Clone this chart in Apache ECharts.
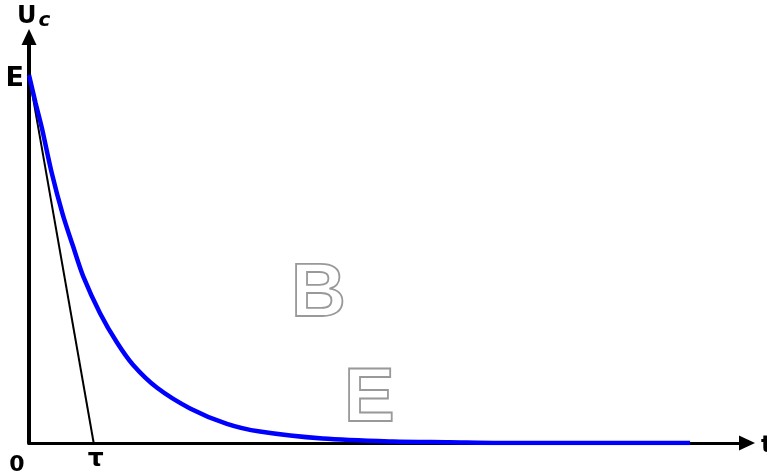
<!DOCTYPE html>
<html>
<head>
<meta charset="utf-8">
<script src="https://cdn.jsdelivr.net/npm/echarts@6/dist/echarts.min.js"></script>
<style>
  html, body { margin: 0; padding: 0; background: #fff; }
  #chart { width: 767px; height: 473px; }
</style>
</head>
<body>
<div id="chart"></div>
<script>
// Capacitor discharge: time in units of tau, voltage in units of E
const timeTau = [0, 0.10, 0.20, 0.35, 0.52, 0.68, 0.84, 1.10, 1.36, 1.61, 1.98, 2.49, 3.06, 3.57, 4.54, 5.63, 6.50, 7.28, 10.22];
const voltage = [1.0, 0.925, 0.855, 0.735, 0.622, 0.535, 0.452, 0.352, 0.273, 0.212, 0.150, 0.094, 0.052, 0.031, 0.012, 0.004, 0.002, 0.0, 0.0];
// Initial-slope line from (0, E) down to the time axis at tau
const tangentT = [0, 1];
const tangentU = [1, 0];
const xMax = 11.1;
const yMax = 1.103;

const curve = timeTau.map((t, i) => [t, voltage[i]]);
const tangent = tangentT.map((t, i) => [t, tangentU[i]]);

const chart = echarts.init(document.getElementById('chart'));
const labelFont = '"DejaVu Sans", sans-serif';

const axisCommon = {
  type: 'value',
  splitLine: { show: false },
  axisTick: { show: false },
  axisLabel: { show: false },
  axisLine: {
    show: true,
    onZero: false,
    symbol: ['none', 'triangle'],
    symbolSize: [15, 16],
    lineStyle: { color: '#000' }
  }
};

chart.setOption({
  animation: false,
  backgroundColor: '#fff',
  grid: { left: 29, right: 20, top: 37, bottom: 30 },
  xAxis: Object.assign({}, axisCommon, {
    min: 0, max: xMax,
    axisLine: Object.assign({}, axisCommon.axisLine, { lineStyle: { color: '#000', width: 3 } })
  }),
  yAxis: Object.assign({}, axisCommon, {
    min: 0, max: yMax,
    axisLine: Object.assign({}, axisCommon.axisLine, { lineStyle: { color: '#000', width: 4 } })
  }),
  series: [
    {
      type: 'line',
      data: tangent,
      showSymbol: false,
      lineStyle: { color: '#000', width: 2 },
      z: 3
    },
    {
      type: 'line',
      data: curve,
      smooth: 0.3,
      showSymbol: false,
      lineStyle: { color: '#0000ff', width: 4.5 },
      z: 4
    }
  ]
});

// Axis annotations placed relative to the axis scales
const origin = chart.convertToPixel({ gridIndex: 0 }, [0, 0]);
const ePt = chart.convertToPixel({ gridIndex: 0 }, [0, 1]);
const tauPt = chart.convertToPixel({ gridIndex: 0 }, [1, 0]);
const xEnd = chart.convertToPixel({ gridIndex: 0 }, [xMax, 0]);
const yEnd = chart.convertToPixel({ gridIndex: 0 }, [0, yMax]);

const outline = {
  font: 'bold 76px "Liberation Sans", sans-serif',
  fill: 'rgba(0,0,0,0)', stroke: '#999', lineWidth: 1.8, verticalAlign: 'top'
};

chart.setOption({
  graphic: [
    {
      type: 'text', left: yEnd[0] - 12, top: yEnd[1] - 32,
      style: {
        text: '{u|U}{c|c}',
        rich: {
          u: { font: 'bold 24px ' + labelFont, fill: '#000' },
          c: { font: 'italic bold 20px ' + labelFont, fill: '#000', padding: [8, 0, 0, 2] }
        }
      }
    },
    {
      type: 'text', x: ePt[0] - 5, y: ePt[1] + 4,
      style: { text: 'E', font: 'bold 27px ' + labelFont, fill: '#000', align: 'right', verticalAlign: 'middle' }
    },
    {
      type: 'text', x: origin[0] - 12, y: origin[1] + 22,
      style: { text: '0', font: 'bold 22px ' + labelFont, fill: '#000', align: 'center', verticalAlign: 'middle' }
    },
    {
      type: 'text', x: tauPt[0] + 2, y: tauPt[1] + 16,
      style: { text: 'τ', font: 'bold 25px ' + labelFont, fill: '#000', align: 'center', verticalAlign: 'middle' }
    },
    {
      type: 'text', x: xEnd[0] + 14, y: xEnd[1] + 3,
      style: { text: 't', font: 'bold 23px ' + labelFont, fill: '#000', align: 'left', verticalAlign: 'middle' }
    },
    { type: 'text', x: 291, y: 257, style: Object.assign({ text: 'B' }, outline) },
    { type: 'text', x: 344, y: 362, style: Object.assign({ text: 'E' }, outline) }
  ]
});
</script>
</body>
</html>
